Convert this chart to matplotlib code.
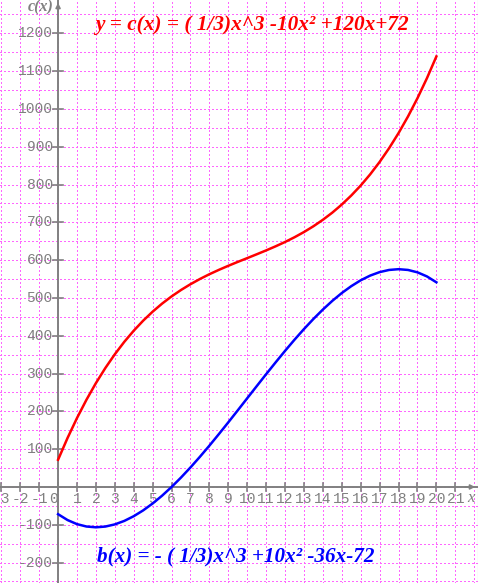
import matplotlib
matplotlib.use("Agg")
import matplotlib.pyplot as plt
import numpy as np

# hodnoty odectene z grafu po 0.5
x_vals = [0, 0.5, 1, 1.5, 2, 2.5, 3, 3.5, 4, 4.5, 5, 5.5, 6, 6.5, 7, 7.5, 8,
          8.5, 9, 9.5, 10, 10.5, 11, 11.5, 12, 12.5, 13, 13.5, 14, 14.5, 15,
          15.5, 16, 16.5, 17, 17.5, 18, 18.5, 19, 19.5, 20]
c_vals = [72, 129.5, 182.3, 230.6, 274.7, 314.7, 351, 383.8, 413.3, 439.9,
          463.7, 485, 504, 521, 536.3, 550.1, 562.7, 574.2, 585, 595.3, 605.3,
          615.4, 625.7, 636.5, 648, 660.5, 674.3, 689.6, 706.7, 725.7, 747,
          770.9, 797.3, 826.9, 859.7, 896, 936, 980, 1028.3, 1081.1, 1138.7]
b_vals = [-72, -87.5, -98.3, -104.6, -106.7, -104.7, -99, -89.8, -77.3, -61.9,
          -43.7, -23, 0, 25, 51.7, 79.9, 109.3, 139.8, 171, 202.7, 234.7,
          266.6, 298.3, 329.5, 360, 389.5, 417.7, 444.4, 469.3, 492.3, 513,
          531.1, 546.7, 559.1, 568.3, 574, 576, 574, 567.7, 556.9, 541.3]

x_ticks = [-3, -2, -1, 0, 1, 2, 3, 4, 5, 6, 7, 8, 9, 10, 11, 12, 13, 14, 15,
           16, 17, 18, 19, 20, 21]
y_ticks = [-200, -100, 100, 200, 300, 400, 500, 600, 700, 800, 900, 1000,
           1100, 1200]

red_label = "y = c(x) = ( 1/3)x^3 -10x\u00b2 +120x+72"
blue_label = "b(x) = - ( 1/3)x^3 +10x\u00b2 -36x-72"

fig = plt.figure(figsize=(4.78, 5.83), dpi=100)
ax = fig.add_axes([0, 0, 1, 1])
ax.set_xlim(-3.07, 22.2)
ax.set_ylim(-254, 1288)
for s in ["top", "left", "bottom"]:
    ax.spines[s].set_visible(False)
ax.spines["right"].set_color("#c8c8c8")
ax.set_xticks([])
ax.set_yticks([])

# teckovana mrizka, bez vyhlazovani aby tecky byly ostre
grid = dict(color="#ff66ff", lw=0.72, ls=(0, (1.4, 2.8)), zorder=0,
            antialiased=False)
for gx in range(-3, 23):
    ax.axvline(gx, **grid)
for gy in range(-250, 1300, 50):
    ax.axhline(gy, **grid)

axis_col = "#808080"
ax.axhline(0, color=axis_col, lw=1.4, zorder=1)
ax.axvline(0, color=axis_col, lw=1.4, zorder=1)

mono = "Liberation Mono"
for t in x_ticks:
    ax.plot([t, t], [-11, 11], color=axis_col, lw=1.2, zorder=1)
    xx = -0.25 if t == 0 else t
    ax.text(xx, -32, str(t), ha="center", va="center", color=axis_col,
            family=mono, fontsize=10.5)
for t in y_ticks:
    ax.plot([-0.25, 0.25], [t, t], color=axis_col, lw=1.2, zorder=1)
    ax.text(-0.28, t, str(t), ha="right", va="center", color=axis_col,
            family=mono, fontsize=10.5)

ax.annotate("", xy=(0, 1288), xytext=(0, 1250),
            arrowprops=dict(arrowstyle="-|>", color=axis_col, lw=1.2,
                            mutation_scale=7))
ax.annotate("", xy=(22.2, 0), xytext=(21.4, 0),
            arrowprops=dict(arrowstyle="-|>", color=axis_col, lw=1.2,
                            mutation_scale=7))
ax.text(-0.25, 1268, "c(x)", ha="right", va="center", color=axis_col,
        family="Liberation Serif", style="italic", weight="bold", fontsize=11.5)
ax.text(21.85, -30, "x", ha="center", va="center", color=axis_col,
        family="Liberation Serif", style="italic", fontsize=12)

ax.plot(x_vals, c_vals, color="#ff0000", lw=1.8, zorder=3)
ax.plot(x_vals, b_vals, color="#0000ff", lw=1.8, zorder=3)

ax.text(10.26, 1222, red_label, ha="center", va="center", color="#ff0000",
        family="Liberation Serif", style="italic", weight="bold", fontsize=15.3)
ax.text(9.39, -185, blue_label, ha="center", va="center", color="#0000ff",
        family="Liberation Serif", style="italic", weight="bold", fontsize=15.2)

fig.savefig("out.png", dpi=100)
